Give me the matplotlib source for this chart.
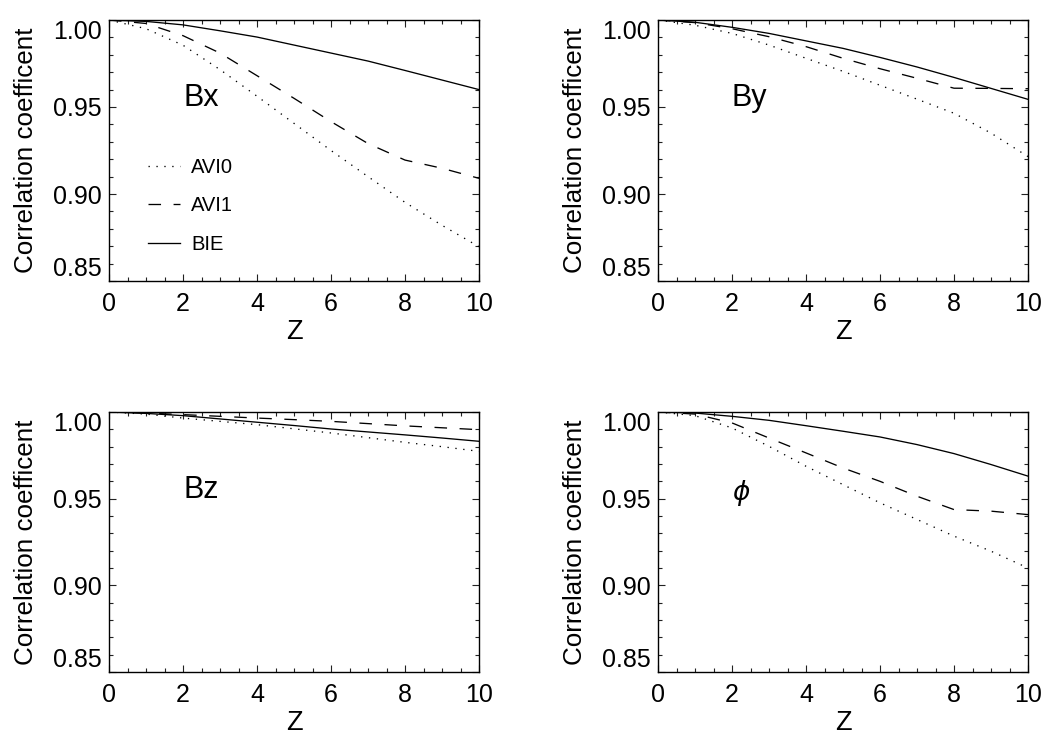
import matplotlib
matplotlib.use("Agg")
import matplotlib.pyplot as plt
from matplotlib.ticker import MultipleLocator, FormatStrFormatter

plt.rcParams['font.family'] = ['Liberation Sans', 'DejaVu Sans']
plt.rcParams['mathtext.fontset'] = 'dejavusans'

z = [0, 1, 2, 3, 4, 5, 6, 7, 8, 9, 10]

panel_labels = ['Bx', 'By', 'Bz', r'$\phi$']
series_names = ['AVI0', 'AVI1', 'BIE']

bx_avi0 = [1.000, 0.995, 0.9855, 0.9715, 0.9562, 0.9406, 0.925, 0.910, 0.8952, 0.882, 0.8697]
bx_avi1 = [1.000, 0.998, 0.991, 0.981, 0.968, 0.955, 0.9416, 0.929, 0.9195, 0.9148, 0.909]
bx_bie = [1.000, 0.9992, 0.9972, 0.9938, 0.9902, 0.9856, 0.981, 0.9764, 0.971, 0.9655, 0.960]

by_avi0 = [1.000, 0.997, 0.9923, 0.9856, 0.978, 0.9705, 0.9625, 0.9545, 0.9464, 0.935, 0.9215]
by_avi1 = [1.000, 0.9985, 0.995, 0.9904, 0.9847, 0.978, 0.972, 0.9665, 0.9608, 0.9607, 0.9605]
by_bie = [1.000, 0.9987, 0.9958, 0.9923, 0.988, 0.9837, 0.9785, 0.973, 0.967, 0.9607, 0.9544]

bz_avi0 = [1.000, 0.9988, 0.9965, 0.9946, 0.9927, 0.9903, 0.9879, 0.9852, 0.9825, 0.980, 0.9773]
bz_avi1 = [1.000, 0.9994, 0.9985, 0.9975, 0.9965, 0.9956, 0.9946, 0.9933, 0.992, 0.9909, 0.9898]
bz_bie = [1.000, 0.9992, 0.9979, 0.996, 0.9941, 0.9922, 0.9902, 0.9885, 0.9868, 0.985, 0.9831]

phi_avi0 = [1.000, 0.9979, 0.9908, 0.9802, 0.9687, 0.9581, 0.9476, 0.938, 0.9284, 0.9197, 0.910]
phi_avi1 = [1.000, 0.9988, 0.9937, 0.985, 0.9764, 0.9677, 0.960, 0.9514, 0.9437, 0.9428, 0.9408]
phi_bie = [1.000, 0.9994, 0.9975, 0.9952, 0.9921, 0.9889, 0.9856, 0.9812, 0.976, 0.9697, 0.963]

panels = [
    (bx_avi0, bx_avi1, bx_bie),
    (by_avi0, by_avi1, by_bie),
    (bz_avi0, bz_avi1, bz_bie),
    (phi_avi0, phi_avi1, phi_bie),
]

W, H = 1044, 733
fig = plt.figure(figsize=(W / 100, H / 100), dpi=100)

# axes boxes in pixels: left, top, right, bottom
boxes = [
    (109, 20, 479, 281),
    (658, 20, 1028, 281),
    (109, 412, 479, 672),
    (658, 412, 1028, 672),
]

styles = [(0, (1.0, 5.0)), (0, (9.5, 9.5)), '-']

for i, (box, data, lab) in enumerate(zip(boxes, panels, panel_labels)):
    l, t, r, b = box
    ax = fig.add_axes([l / W, (H - b) / H, (r - l) / W, (b - t) / H])
    for ser, ls, name in zip(data, styles, series_names):
        ax.plot(z, ser, color='black', lw=0.95, linestyle=ls, label=name)
    ax.set_xlim(0, 10)
    ax.set_ylim(0.85, 1.00)
    ax.xaxis.set_major_locator(MultipleLocator(2))
    ax.xaxis.set_minor_locator(MultipleLocator(0.5))
    ax.yaxis.set_major_locator(MultipleLocator(0.05))
    ax.yaxis.set_minor_locator(MultipleLocator(0.01))
    ax.yaxis.set_major_formatter(FormatStrFormatter('%.2f'))
    ax.tick_params(which='both', direction='in', top=True, right=True,
                   labelsize=18, width=0.8, color='#222222')
    ax.tick_params(which='major', length=5)
    ax.tick_params(which='minor', length=3)
    ax.tick_params(axis='y', which='major', pad=5)
    ax.tick_params(axis='x', which='major', pad=8)
    for sp in ax.spines.values():
        sp.set_linewidth(1.0)
    ax.set_xlabel('Z', fontsize=19.5, labelpad=2)
    ax.set_ylabel('Correlation coefficent', fontsize=18.7, labelpad=11)
    fig.canvas.draw()
    for tl in ax.get_yticklabels():
        if tl.get_text() == '1.00':
            tl.set_va('top')
        elif tl.get_text() == '0.85':
            tl.set_va('bottom')
    if lab.startswith('$'):
        ax.text(2.0, 0.953, lab, fontsize=19, ha='left', va='center')
    else:
        ax.text(2.0, 0.955, lab, fontsize=22, ha='left', va='center')
    if i == 0:
        ax.legend(loc='upper left', bbox_to_anchor=(0.105, 0.47), frameon=False,
                  fontsize=14.5, handlelength=1.6, handletextpad=0.55,
                  labelspacing=0.95, borderpad=0, borderaxespad=0)

fig.savefig('out.png', dpi=100)
